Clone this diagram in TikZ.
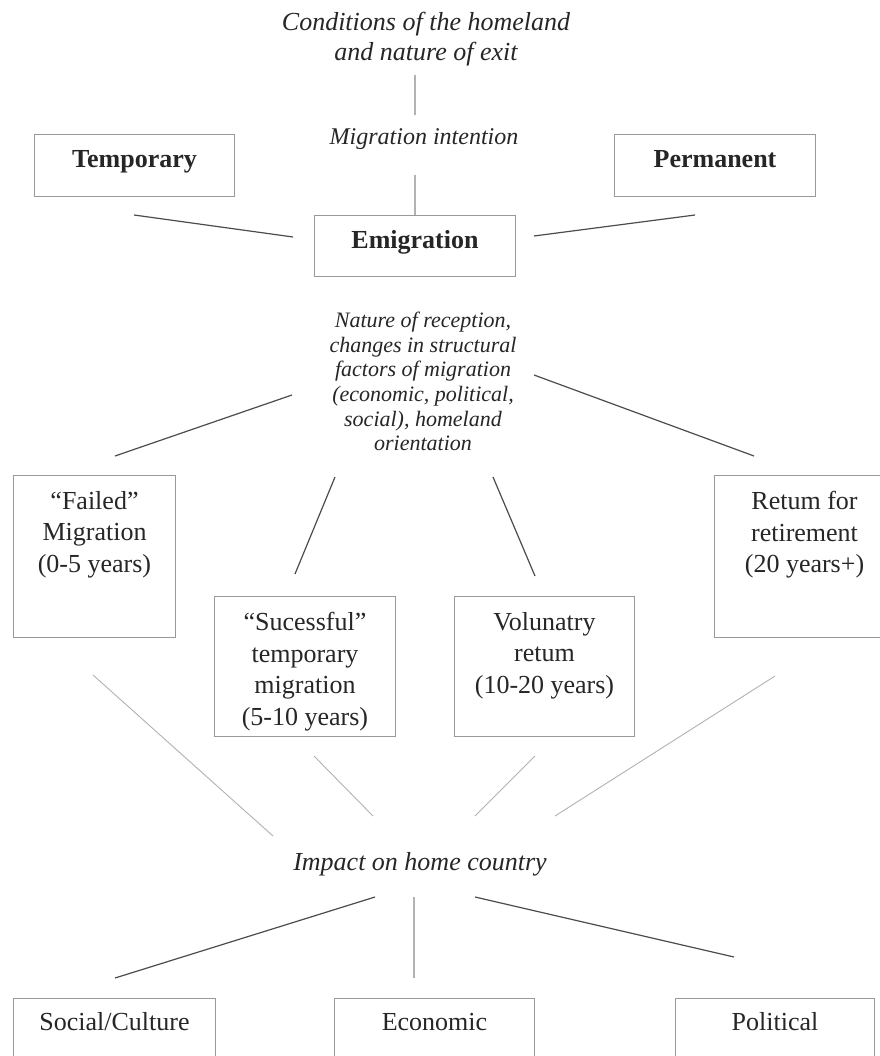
\documentclass[tikz,border=0pt]{standalone}
\usepackage{fontspec}
\setmainfont{Liberation Serif}
\begin{document}
\begin{tikzpicture}[x=1pt,y=-1pt,
 box/.style={draw=gray!80, line width=1pt, inner sep=0pt, anchor=north west},
 rtxt/.style={font=\fontsize{26}{31.5}\selectfont, text=black!85, align=center, inner sep=0pt},
 bftxt/.style={rtxt, font=\fontsize{26}{31.5}\selectfont\bfseries},
 itxt/.style={font=\fontsize{26}{30}\selectfont\itshape, text=black!85, align=center, inner sep=0pt},
 mtxt/.style={itxt, font=\fontsize{24}{28}\selectfont\itshape},
 ntxt/.style={itxt, font=\fontsize{22}{24.6}\selectfont\itshape},
 dark/.style={draw=black!70, line width=1.2pt},
 light/.style={draw=gray!60, line width=0.9pt},
 vert/.style={draw=gray!60, line width=1.6pt}]
\useasboundingbox (0,0) rectangle (879,1056);
\fill[white] (0,0) rectangle (879,1056);

% boxes
\node[box, minimum width=200pt, minimum height=62pt] (temp) at (34,134) {};
\node[box, minimum width=201pt, minimum height=62pt] (perm) at (614,134) {};
\node[box, minimum width=201pt, minimum height=61pt] (emig) at (314,215) {};
\node[box, minimum width=162pt, minimum height=162pt] (failed) at (13,475) {};
\node[box, minimum width=181pt, minimum height=140pt] (succ) at (214,596) {};
\node[box, minimum width=180pt, minimum height=140pt] (volun) at (454,596) {};
\node[box, minimum width=180pt, minimum height=162pt] (retire) at (714,475) {};
\node[box, minimum width=202pt, minimum height=70pt] (social) at (13,998) {};
\node[box, minimum width=200pt, minimum height=70pt] (econ) at (334,998) {};
\node[box, minimum width=199pt, minimum height=70pt] (polit) at (675,998) {};

% box texts
\node[bftxt, anchor=base] (tempT) at ([yshift=-34pt]temp.north) {Temporary};
\node[bftxt, anchor=base] (permT) at ([yshift=-34pt]perm.north) {Permanent};
\node[bftxt, anchor=base] (emigT) at ([yshift=-34pt]emig.north) {Emigration};
\node[rtxt, anchor=north] (failedT) at ([yshift=-16pt]failed.north) {“Failed”\\Migration\\(0-5 years)};
\node[rtxt, anchor=north] (succT) at ([yshift=-16pt]succ.north) {“Sucessful”\\temporary\\migration\\(5-10 years)};
\node[rtxt, anchor=north] (volunT) at ([yshift=-16pt]volun.north) {Volunatry\\retum\\(10-20 years)};
\node[rtxt, anchor=north] (retireT) at ([yshift=-16pt]retire.north) {Retum for\\retirement\\(20 years+)};
\node[rtxt, anchor=base] (socialT) at ([yshift=-32pt]social.north) {Social/Culture};
\node[rtxt, anchor=base] (econT) at ([yshift=-32pt]econ.north) {Economic};
\node[rtxt, anchor=base] (politT) at ([yshift=-32pt]polit.north) {Political};

% free texts
\node[itxt, anchor=north] (cond) at (426,12) {Conditions of the homeland\\and nature of exit};
\node[mtxt, anchor=base] (mig) at (424,145) {Migration intention};
\node[ntxt, anchor=north] (nature) at (423,312) {Nature of reception,\\changes in structural\\factors of migration\\(economic, political,\\social), homeland\\orientation};
\node[itxt, anchor=base] (impact) at (420,870) {Impact on home country};

% connector end points
\coordinate (c1) at (415,75);  \coordinate (c2) at (415,115);
\coordinate (c3) at (415,175);
\coordinate (t1) at (134,215); \coordinate (t2) at (293,237);
\coordinate (p1) at (534,236); \coordinate (p2) at (695,215);
\coordinate (n1) at (292,395); \coordinate (n2) at (115,456);
\coordinate (n3) at (534,375); \coordinate (n4) at (754,456);
\coordinate (n5) at (335,477); \coordinate (n6) at (295,574);
\coordinate (n7) at (493,477); \coordinate (n8) at (535,576);
\coordinate (f1) at (93,675);  \coordinate (f2) at (273,836);
\coordinate (s1) at (314,756); \coordinate (s2) at (373,816);
\coordinate (v1) at (535,756); \coordinate (v2) at (475,816);
\coordinate (r1) at (775,676); \coordinate (r2) at (555,816);
\coordinate (i1) at (375,897); \coordinate (i2) at (115,978);
\coordinate (i3) at (414,897); \coordinate (i4) at (414,978);
\coordinate (i5) at (475,897); \coordinate (i6) at (734,957);

% connectors
\draw[vert] (c1) -- (c2);
\draw[vert] (c3) -- (emig.north);
\draw[dark] (t1) -- (t2);
\draw[dark] (p1) -- (p2);
\draw[dark] (n1) -- (n2);
\draw[dark] (n3) -- (n4);
\draw[dark] (n5) -- (n6);
\draw[dark] (n7) -- (n8);
\draw[light] (f1) -- (f2);
\draw[light] (s1) -- (s2);
\draw[light] (v1) -- (v2);
\draw[light] (r1) -- (r2);
\draw[dark] (i1) -- (i2);
\draw[vert] (i3) -- (i4);
\draw[dark] (i5) -- (i6);
\end{tikzpicture}
\end{document}
